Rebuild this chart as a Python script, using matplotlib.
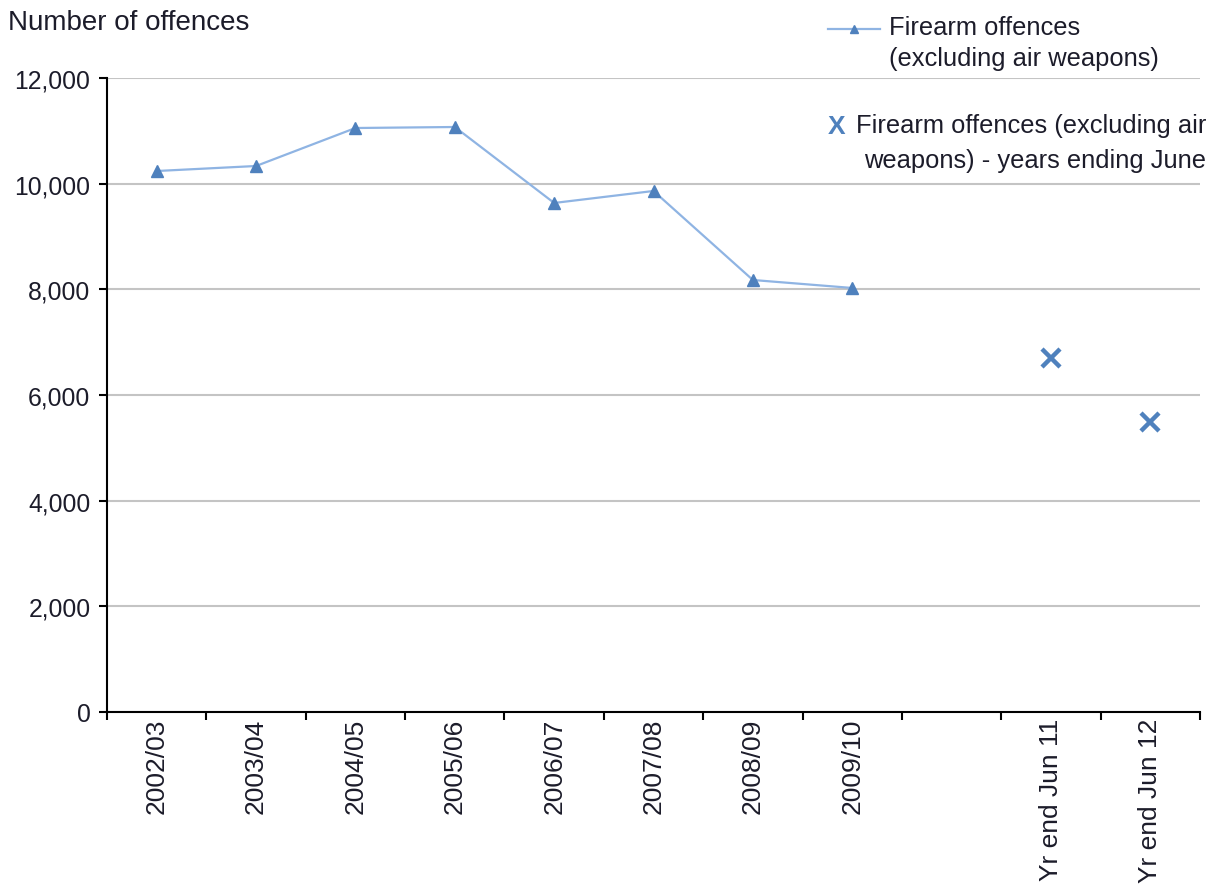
import matplotlib
matplotlib.use("Agg")
import matplotlib.pyplot as plt
from matplotlib.lines import Line2D

plt.rcParams["font.family"] = ["Liberation Sans", "DejaVu Sans"]

# financial years (line) and rolling years ending June (separate markers)
years = ["2002/03", "2003/04", "2004/05", "2005/06",
         "2006/07", "2007/08", "2008/09", "2009/10"]
offences = [10240, 10335, 11054, 11073, 9635, 9862, 8177, 8026]
june_labels = ["Yr end Jun 11", "Yr end Jun 12"]
june_offences = [6701, 5489]

TEXT = "#1c1c2a"
LINE = "#8fb4e3"
MARK = "#4f81bd"

labels = years + [""] + june_labels
xs_line = list(range(len(years)))
xs_june = [len(years) + 1 + i for i in range(len(june_labels))]

fig = plt.figure(figsize=(12.11, 8.87), dpi=100)
ax = fig.add_axes([0.0884, 0.1962, 0.9025, 0.7147])

ax.plot(xs_line, offences, color=LINE, lw=1.6, marker="^", ms=8,
        mfc=MARK, mec=MARK, zorder=3)
ax.plot(xs_june, june_offences, ls="none", marker="x", ms=13, mew=3.2,
        color=MARK, zorder=3)

ax.set_xlim(-0.5, len(labels) - 0.5)
ax.set_ylim(0, 12000)
ax.set_yticks(range(0, 12001, 2000))
ax.set_yticklabels([f"{v:,}" for v in range(0, 12001, 2000)])
ax.yaxis.grid(True, color="#c4c4c4", lw=1.5)
ax.set_axisbelow(True)

# category boundaries carry the tick marks, labels sit in the middle
ax.set_xticks([i - 0.5 for i in range(len(labels) + 1)])
ax.set_xticklabels([])
ax.set_xticks(range(len(labels)), minor=True)
ax.set_xticklabels(labels, minor=True, rotation=90, va="top", ha="center")
ax.tick_params(axis="both", which="major", length=6, width=1.5,
               direction="out", color="black")
ax.tick_params(axis="y", labelsize=17.8, labelcolor=TEXT, pad=6)
ax.tick_params(axis="x", which="minor", length=0, pad=4,
               labelsize=19, labelcolor=TEXT)

for side in ("top", "right"):
    ax.spines[side].set_visible(False)
for side in ("left", "bottom"):
    ax.spines[side].set_linewidth(1.5)

fig.text(0.007, 0.974, "Number of offences", fontsize=20, color=TEXT,
         ha="left", va="center")

# hand-made legend in the top right corner
LFS = 18.4
fig.add_artist(Line2D([0.684, 0.727], [0.966, 0.966], color=LINE, lw=1.6,
                      transform=fig.transFigure))
fig.add_artist(Line2D([0.7055], [0.966], color=MARK, marker="^", ms=6,
                      ls="none", transform=fig.transFigure))
fig.text(0.734, 0.982, "Firearm offences\n(excluding air weapons)",
         fontsize=LFS, color=TEXT, ha="left", va="top",
         linespacing=1.38)
fig.text(0.6905, 0.857, "X", fontsize=19, fontweight="bold", color=MARK,
         ha="center", va="center")
fig.text(0.996, 0.872, "Firearm offences (excluding air\nweapons) - years ending June",
         fontsize=LFS, color=TEXT, ha="right", va="top",
         multialignment="right", linespacing=1.58)

fig.savefig("out.png", dpi=100, facecolor="white")
